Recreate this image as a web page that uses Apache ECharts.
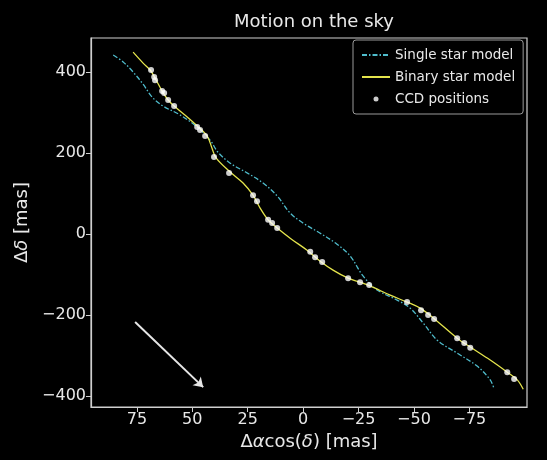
<!DOCTYPE html>
<html>
<head>
<meta charset="utf-8">
<title>Motion on the sky</title>
<script src="https://cdn.jsdelivr.net/npm/echarts@6/dist/echarts.min.js"></script>
<style>
  html, body { margin: 0; padding: 0; background: #000; }
  #chart { width: 547px; height: 460px; }
</style>
</head>
<body>
<div id="chart"></div>
<script>
// Single star model track: [Δα cos δ, Δδ] in mas
const singleStar = [
  [85.7, 442], [81.2, 425], [76.7, 400], [72.2, 370], [68.1, 338], [63.2, 316],
  [55.5, 294], [47.8, 264], [42.0, 232], [38.4, 202], [32.9, 175], [25.3, 151],
  [18.1, 126], [11.7, 94], [5.9, 52], [0.0, 27], [-7.7, 2], [-15.3, -25],
  [-21.2, -54], [-27.1, -104], [-33.4, -138], [-42.4, -163], [-48.3, -183],
  [-54.2, -220], [-60.5, -262], [-69.5, -294], [-78.5, -326], [-84.4, -360],
  [-86.2, -383]
];

// Binary star model track
const binaryStar = [
  [76.7, 449], [72.2, 422], [69.0, 405], [66.8, 385], [63.6, 353], [60.9, 331],
  [57.8, 314], [52.3, 289], [47.8, 267], [43.3, 242], [41.1, 212], [39.3, 188],
  [32.9, 153], [27.1, 126], [22.6, 96], [19.4, 64], [15.8, 35], [11.7, 15],
  [5.4, -12], [-1.8, -40], [-7.7, -67], [-13.5, -89], [-20.3, -109],
  [-25.7, -119], [-30.2, -128], [-39.3, -151], [-46.9, -168], [-52.8, -183],
  [-58.7, -207], [-69.5, -257], [-75.4, -279], [-84.4, -311], [-92.1, -341],
  [-96.6, -360], [-99.3, -383]
];

// Measured CCD positions
const ccdPositions = [
  [68.6, 405], [67.2, 388], [66.8, 380], [63.6, 353], [62.7, 348], [60.9, 331],
  [58.2, 316], [47.8, 264], [46.5, 257], [44.2, 242], [40.2, 190], [33.4, 151],
  [22.6, 96], [20.8, 81], [15.8, 35], [14.0, 27], [11.7, 15], [-3.2, -44],
  [-5.4, -57], [-8.6, -69], [-20.3, -109], [-25.7, -119], [-29.8, -126],
  [-46.9, -168], [-53.2, -188], [-56.4, -200], [-59.1, -210], [-69.5, -257],
  [-72.7, -269], [-75.4, -281], [-92.1, -341], [-95.2, -358]
];

// Direction-of-motion arrow
const arrowStart = [75.8, -217];
const arrowEnd = [45.1, -378];

// Tick positions
const xTicks = [75, 50, 25, 0, -25, -50, -75];
const yTicks = [-400, -200, 0, 200, 400];

const FONT = 'DejaVu Sans';
const FG = '#e8e8e8';
const AXIS = '#cfcfcf';
const CYAN = '#4fbccc';
const YELLOW = '#e4e44c';
const fmt = v => (v < 0 ? '\u2212' + (-v) : String(v));

const chart = echarts.init(document.getElementById('chart'), null, { renderer: 'canvas' });

chart.setOption({
  backgroundColor: '#000',
  animation: false,
  title: {
    text: 'Motion on the sky',
    left: 309, top: 8, textAlign: 'center',
    textStyle: { color: FG, fontFamily: FONT, fontSize: 18, fontWeight: 'normal' }
  },
  legend: {
    orient: 'vertical',
    left: 353, top: 40,
    padding: [7, 8, 7, 8],
    backgroundColor: '#000',
    borderColor: '#9a9a9a', borderWidth: 1, borderRadius: 3,
    itemWidth: 28, itemHeight: 5, itemGap: 6,
    textStyle: { color: FG, fontFamily: FONT, fontSize: 13.5, lineHeight: 16 },
    data: [
      { name: 'Single star model', itemStyle: { opacity: 0 } },
      { name: 'Binary star model', itemStyle: { opacity: 0 } },
      { name: 'CCD positions' }
    ]
  },
  grid: {
    left: 91, right: 20, top: 38, bottom: 53,
    show: true, borderColor: AXIS, borderWidth: 1.2, backgroundColor: '#000'
  },
  xAxis: {
    type: 'value', inverse: true, min: -101, max: 95.7,
    name: '{d|Δ}{i|α}{d|cos(}{i|δ}{d|) [mas]}',
    nameLocation: 'middle', nameGap: 24,
    nameTextStyle: {
      rich: {
        d: { color: FG, fontFamily: FONT, fontSize: 18 },
        i: { color: FG, fontFamily: FONT, fontSize: 18, fontStyle: 'italic' }
      }
    },
    axisLine: { show: true, onZero: false, lineStyle: { color: AXIS, width: 1.2 } },
    axisTick: { show: true, length: 5, customValues: xTicks, lineStyle: { color: AXIS } },
    axisLabel: { customValues: xTicks, color: FG, fontFamily: FONT, fontSize: 16, margin: 5, formatter: fmt },
    splitLine: { show: false }
  },
  yAxis: {
    type: 'value', min: -427, max: 484,
    name: '{d|Δ}{i|δ}{d| [mas]}',
    nameLocation: 'middle', nameGap: 58, nameRotate: 90,
    nameTextStyle: {
      rich: {
        d: { color: FG, fontFamily: FONT, fontSize: 18 },
        i: { color: FG, fontFamily: FONT, fontSize: 18, fontStyle: 'italic' }
      }
    },
    axisLine: { show: true, onZero: false, lineStyle: { color: AXIS, width: 1.2 } },
    axisTick: { show: true, length: 5, customValues: yTicks, lineStyle: { color: AXIS } },
    axisLabel: { customValues: yTicks, color: FG, fontFamily: FONT, fontSize: 16, margin: 5, formatter: fmt },
    splitLine: { show: false }
  },
  series: [
    {
      name: 'Single star model', type: 'line', data: singleStar,
      smooth: 0.35, symbol: 'none', z: 2,
      lineStyle: { color: CYAN, width: 1.3, type: [5, 2, 1.5, 2] },
      itemStyle: { color: CYAN }
    },
    {
      name: 'Binary star model', type: 'line', data: binaryStar,
      smooth: 0.35, symbol: 'none', z: 3,
      lineStyle: { color: YELLOW, width: 1.3 },
      itemStyle: { color: YELLOW }
    },
    {
      name: 'CCD positions', type: 'scatter', data: ccdPositions,
      symbol: 'circle', symbolSize: 6, z: 4,
      itemStyle: { color: '#ffffff' }
    },
    {
      name: 'motion', type: 'lines', coordinateSystem: 'cartesian2d', z: 5,
      data: [{ coords: [arrowStart, arrowEnd] }],
      symbol: ['none', 'arrow'], symbolSize: 9,
      lineStyle: { color: '#e6e6e6', width: 2, opacity: 1 }
    }
  ]
});
</script>
</body>
</html>
